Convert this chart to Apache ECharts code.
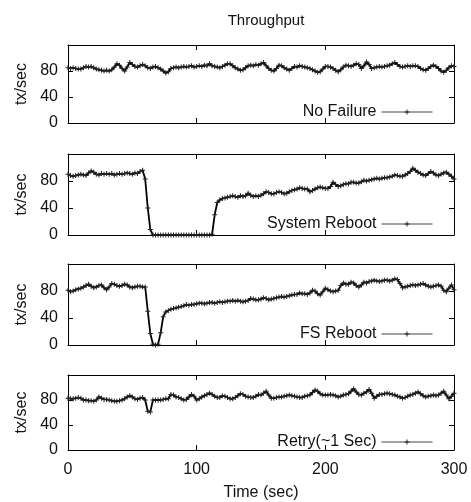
<!DOCTYPE html>
<html>
<head>
<meta charset="utf-8">
<script src="https://cdn.jsdelivr.net/npm/echarts@6/dist/echarts.min.js"></script>
<style>html,body{margin:0;padding:0;background:#fff;}#c{width:471px;height:502px;}</style>
</head>
<body>
<div id="c"></div>
<script>
// time grid (sec), one sample every 2 seconds
var times = [];
for (var t = 0; t <= 300; t += 2) times.push(t);

var seriesNames = ['No Failure', 'System Reboot', 'FS Reboot', 'Retry(~1 Sec)'];

var noFailure = [
  85,84,85,84,83,83,85,87,86,87,
  85,83,82,81,80,81,80,82,86,91,
  89,84,80,86,93,90,87,86,88,90,
  88,85,84,86,87,85,83,80,77,79,
  84,85,86,85,86,87,86,87,88,86,
  87,88,87,89,88,91,88,87,86,85,
  87,89,91,91,88,85,83,81,82,85,
  88,89,88,90,89,91,93,88,84,81,
  80,84,89,88,85,83,81,84,87,86,
  88,87,86,85,84,82,80,78,79,83,
  87,87,86,84,81,79,82,86,89,88,
  87,89,91,90,84,88,94,90,84,85,
  86,87,86,87,88,89,91,93,90,87,
  86,87,88,87,88,88,87,84,82,81,
  84,87,89,87,84,80,78,81,85,88,
  87
];

var systemReboot = [
  90,88,87,88,89,90,89,88,92,95,
  93,90,89,91,90,91,90,91,89,90,
  91,90,91,92,91,90,92,91,94,96,
  83,40,8,0,0,0,0,0,0,0,
  0,0,0,0,0,0,0,0,0,0,
  0,0,0,0,0,0,1,30,48,52,
  54,55,56,57,58,57,56,58,57,58,
  62,59,57,58,57,59,61,64,63,61,
  61,63,64,63,61,62,64,66,67,68,
  70,69,68,68,64,66,68,70,71,70,
  69,69,72,78,75,72,73,75,76,76,
  78,78,77,77,79,81,80,81,82,83,
  84,83,84,85,85,86,87,89,88,87,
  87,89,91,94,99,96,93,91,89,88,
  91,94,92,89,88,90,92,93,90,87,
  83
];

var fsReboot = [
  81,79,80,82,83,84,86,88,90,87,
  85,86,88,89,85,82,86,91,90,88,
  87,88,90,89,86,85,86,87,87,86,
  86,50,17,1,0,1,18,42,49,51,
  53,54,55,56,57,58,60,59,60,60,
  61,62,62,61,62,63,63,62,63,64,
  63,64,65,65,66,65,66,65,64,65,
  66,69,68,67,67,68,70,69,67,68,
  69,70,71,72,71,72,73,74,75,75,
  77,76,76,75,77,81,80,76,74,79,
  84,82,80,79,80,81,88,92,90,90,
  93,92,88,86,89,93,92,94,95,96,
  95,94,95,96,96,95,96,98,97,91,
  85,86,87,88,89,88,89,90,91,89,
  87,86,87,88,89,87,81,79,84,89,
  82
];

var retry = [
  83,82,82,83,84,83,80,80,79,79,
  78,80,85,83,81,81,80,79,78,78,
  79,80,82,85,87,85,82,81,83,84,
  80,62,61,80,80,80,80,81,82,82,
  89,88,85,84,82,80,81,85,89,86,
  80,82,85,87,89,91,89,86,84,84,
  87,86,84,82,82,84,87,90,89,86,
  85,84,84,86,89,88,91,94,88,83,
  83,84,85,85,86,87,88,87,86,85,
  84,84,86,87,88,92,96,94,90,88,
  88,88,89,88,87,85,86,88,89,90,
  94,98,93,89,88,91,93,97,91,83,
  86,89,89,90,91,90,89,88,86,85,
  83,84,86,88,89,91,93,90,87,85,
  86,87,88,87,88,91,94,88,82,86,
  91
];

var xTicks = [0, 100, 200, 300];
var yTicks = [0, 40, 80];

var allValues = [noFailure, systemReboot, fsReboot, retry];
var gridTops = [45, 154, 264, 375];
var gridHeights = [78, 81, 81, 78];

var FONT = 'Liberation Sans, Arial, Helvetica, sans-serif';
var plusPath = 'path://M4,0H6V4H10V6H6V10H4V6H0V4H4Z';
var AX_LINE = {show: true, onZero: false, lineStyle: {color: '#000', width: 1}};
var TICK = {show: true, inside: true, length: 5, lineStyle: {color: '#000', width: 1}};

var grids = [], xAxes = [], yAxes = [], series = [], legends = [];
for (var i = 0; i < 4; i++) {
  grids.push({left: 68, right: 17, top: gridTops[i], height: gridHeights[i], show: false});
  var last = (i === 3);
  xAxes.push({gridIndex: i, type: 'value', min: 0, max: 300, interval: 100, position: 'bottom',
    axisLine: AX_LINE, axisTick: TICK, splitLine: {show: false},
    axisLabel: {show: last, margin: 12, fontSize: 16, color: '#111', fontFamily: FONT,
      formatter: function (v) { return xTicks.indexOf(v) >= 0 ? String(v) : ''; }},
    name: last ? 'Time (sec)' : '', nameLocation: 'middle', nameGap: 35,
    nameTextStyle: {fontSize: 16, color: '#111', fontFamily: FONT}
  });
  xAxes.push({gridIndex: i, type: 'value', min: 0, max: 300, interval: 100, position: 'top',
    axisLine: AX_LINE, axisTick: TICK, splitLine: {show: false}, axisLabel: {show: false}
  });
  yAxes.push({gridIndex: i, type: 'value', min: 0, max: 120, interval: 40, position: 'left',
    axisLine: AX_LINE, axisTick: TICK, splitLine: {show: false},
    axisLabel: {margin: 10, fontSize: 16, color: '#111', fontFamily: FONT,
      formatter: function (v) { return yTicks.indexOf(v) >= 0 ? String(v) : ''; }},
    name: 'tx/sec', nameLocation: 'middle', nameGap: 38, nameRotate: 90,
    nameTextStyle: {fontSize: 16, color: '#111', fontFamily: FONT}
  });
  yAxes.push({gridIndex: i, type: 'value', min: 0, max: 120, interval: 40, position: 'right',
    axisLine: AX_LINE, axisTick: TICK, splitLine: {show: false}, axisLabel: {show: false}
  });
  var vals = allValues[i];
  var data = [];
  for (var k = 0; k < times.length; k++) data.push([times[k], vals[k]]);
  series.push({
    name: seriesNames[i], type: 'line', xAxisIndex: 2 * i, yAxisIndex: 2 * i,
    data: data, symbol: plusPath, symbolSize: 5, showSymbol: true, showAllSymbol: true,
    lineStyle: {color: '#000', width: 1.8}, itemStyle: {color: '#222'},
    animation: false, clip: true
  });
  legends.push({
    data: [seriesNames[i]], right: 38, top: gridTops[i] + gridHeights[i] - 19, padding: 0,
    orient: 'horizontal', align: 'right', itemWidth: 51, itemHeight: 6,
    lineStyle: {width: 1, color: '#444'}, itemStyle: {color: '#222'},
    textStyle: {fontSize: 16, color: '#111', fontFamily: FONT},
    selectedMode: false
  });
}

var chart = echarts.init(document.getElementById('c'), null, {renderer: 'canvas'});
chart.setOption({
  animation: false,
  backgroundColor: '#fff',
  title: {text: 'Throughput', left: 261, top: 8, textAlign: 'center',
    textStyle: {fontSize: 15, fontWeight: 'normal', color: '#111', fontFamily: FONT}},
  grid: grids, xAxis: xAxes, yAxis: yAxes, series: series, legend: legends
});
</script>
</body>
</html>
